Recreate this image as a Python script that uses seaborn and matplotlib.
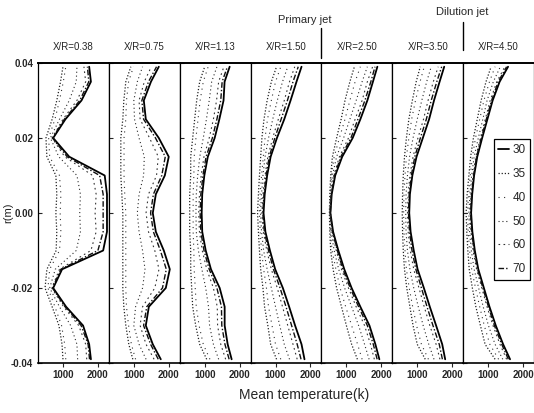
import numpy as np
import pandas as pd
import matplotlib
matplotlib.use("Agg")
import matplotlib.pyplot as plt
import seaborn as sns
from matplotlib.lines import Line2D

# ---------------- data ----------------
R = [0.039, 0.035, 0.030, 0.025, 0.020, 0.015, 0.010, 0.005, 0.0,
     -0.005, -0.010, -0.015, -0.020, -0.025, -0.030, -0.035, -0.039]
SERIES = ["30", "35", "40", "50", "60", "70"]
TITLES = ["X/R=0.38", "X/R=0.75", "X/R=1.13", "X/R=1.50", "X/R=2.50", "X/R=3.50", "X/R=4.50"]
XTICKS = [1000, 2000]
YTICKS = [0.04, 0.02, 0.0, -0.02, -0.04]
YTICKLABELS = ["0.04", "0.02", "0.00", "-0.02", "-0.04"]

# each list of rows: series 30, 35, 40, 50, 60, 70 (temperature in K along R)
T_038 = [
    [1750, 1800, 1530, 1070, 720, 1180, 2195, 2260, 2260, 2260, 2150, 975, 720, 1090, 1575, 1750, 1800],
    [1000, 930, 823, 690, 513, 540, 797, 823, 797, 823, 805, 540, 487, 690, 885, 973, 1000],
    [1080, 1010, 900, 770, 590, 620, 900, 940, 920, 940, 900, 620, 570, 770, 960, 1050, 1080],
    [1400, 1380, 1180, 900, 640, 880, 1400, 1500, 1480, 1500, 1380, 780, 620, 900, 1220, 1400, 1420],
    [1600, 1650, 1400, 1000, 690, 1050, 1850, 1950, 1920, 1950, 1800, 900, 680, 1020, 1450, 1650, 1680],
    [1700, 1740, 1480, 1040, 700, 1120, 2050, 2150, 2150, 2150, 2000, 940, 700, 1060, 1520, 1720, 1760],
]
T_075 = [
    [1715, 1490, 1286, 1343, 1715, 2000, 1887, 1630, 1543, 1630, 1858, 2030, 1915, 1430, 1343, 1543, 1772],
    [914, 771, 714, 685, 628, 628, 628, 657, 685, 685, 685, 685, 685, 714, 771, 857, 971],
    [990, 850, 790, 770, 720, 720, 720, 740, 770, 770, 770, 770, 770, 790, 850, 930, 1050],
    [1250, 1100, 1000, 1020, 1150, 1300, 1280, 1150, 1100, 1150, 1250, 1320, 1250, 1050, 1000, 1150, 1350],
    [1500, 1300, 1150, 1180, 1450, 1700, 1650, 1420, 1350, 1420, 1600, 1720, 1600, 1250, 1180, 1350, 1580],
    [1650, 1420, 1230, 1280, 1620, 1900, 1800, 1560, 1480, 1560, 1760, 1930, 1820, 1370, 1280, 1480, 1700],
]
T_113 = [
    [1715, 1570, 1540, 1420, 1286, 1090, 990, 930, 914, 930, 1030, 1180, 1430, 1572, 1572, 1658, 1772],
    [1000, 857, 771, 714, 657, 600, 600, 571, 571, 571, 600, 600, 628, 657, 743, 857, 1057],
    [1100, 960, 870, 810, 750, 700, 690, 670, 670, 670, 690, 700, 730, 760, 840, 960, 1150],
    [1350, 1200, 1130, 1050, 960, 860, 800, 760, 750, 760, 820, 920, 1030, 1110, 1140, 1250, 1400],
    [1550, 1400, 1340, 1250, 1130, 980, 900, 850, 830, 850, 930, 1060, 1250, 1360, 1370, 1460, 1600],
    [1650, 1500, 1460, 1350, 1220, 1040, 950, 890, 870, 890, 980, 1130, 1350, 1480, 1490, 1580, 1700],
]
T_150 = [
    [1744, 1600, 1430, 1250, 1040, 860, 760, 690, 657, 710, 840, 990, 1210, 1390, 1560, 1744, 1829],
    [1029, 880, 760, 670, 610, 575, 540, 510, 486, 510, 540, 575, 640, 686, 780, 860, 1029],
    [1150, 1000, 880, 770, 700, 650, 600, 560, 540, 560, 600, 660, 740, 800, 900, 1000, 1150],
    [1350, 1200, 1050, 920, 800, 700, 640, 600, 570, 600, 660, 760, 880, 1000, 1120, 1250, 1400],
    [1550, 1400, 1250, 1080, 920, 780, 700, 640, 610, 650, 750, 880, 1050, 1200, 1350, 1500, 1620],
    [1650, 1500, 1340, 1160, 980, 820, 730, 670, 635, 680, 800, 940, 1130, 1300, 1460, 1620, 1730],
]
T_250 = [
    [1887, 1760, 1600, 1400, 1180, 880, 680, 580, 543, 620, 770, 940, 1150, 1400, 1660, 1830, 1944],
    [1229, 1100, 960, 850, 720, 600, 550, 525, 514, 525, 550, 620, 720, 860, 1000, 1150, 1315],
    [1400, 1250, 1100, 960, 800, 650, 570, 540, 525, 540, 590, 700, 820, 980, 1150, 1320, 1450],
    [1600, 1450, 1280, 1100, 920, 720, 600, 550, 530, 560, 650, 780, 950, 1150, 1350, 1520, 1650],
    [1750, 1600, 1450, 1250, 1060, 800, 640, 565, 535, 590, 710, 860, 1060, 1280, 1520, 1690, 1800],
    [1820, 1700, 1530, 1330, 1130, 840, 660, 570, 540, 605, 740, 900, 1110, 1350, 1600, 1770, 1880],
]
T_350 = [
    [1772, 1640, 1480, 1340, 1160, 980, 860, 790, 771, 810, 900, 1010, 1190, 1360, 1540, 1715, 1800],
    [1086, 970, 860, 760, 690, 635, 600, 580, 571, 580, 600, 635, 700, 790, 880, 1000, 1229],
    [1200, 1080, 950, 840, 760, 690, 650, 620, 610, 620, 650, 690, 770, 870, 980, 1120, 1320],
    [1400, 1270, 1130, 1000, 880, 780, 720, 680, 670, 680, 720, 790, 900, 1030, 1170, 1330, 1480],
    [1600, 1460, 1310, 1180, 1020, 880, 790, 740, 720, 740, 800, 900, 1050, 1200, 1360, 1540, 1650],
    [1700, 1560, 1400, 1260, 1090, 930, 830, 770, 750, 780, 850, 960, 1120, 1280, 1450, 1630, 1720],
]
T_450 = [
    [1572, 1330, 1130, 980, 830, 690, 600, 545, 514, 550, 620, 720, 880, 1040, 1220, 1430, 1629],
    [1086, 940, 800, 690, 580, 500, 450, 400, 371, 390, 420, 460, 550, 650, 780, 914, 1200],
    [1200, 1040, 880, 760, 640, 550, 490, 440, 410, 430, 470, 530, 640, 760, 890, 1050, 1300],
    [1350, 1150, 970, 850, 720, 600, 530, 480, 450, 470, 520, 600, 730, 860, 1010, 1200, 1420],
    [1480, 1250, 1060, 920, 780, 650, 570, 510, 480, 510, 570, 670, 820, 970, 1140, 1340, 1530],
    [1530, 1290, 1100, 950, 805, 670, 585, 530, 500, 530, 600, 700, 850, 1010, 1180, 1390, 1580],
]
PANELS = [T_038, T_075, T_113, T_150, T_250, T_350, T_450]

# ---------------- styles ----------------
COLORS = {"30": "#000000", "35": "#222222", "40": "#333333", "50": "#2a2a2a", "60": "#333333", "70": "#111111"}
DASHES = {"30": "", "35": (1, 1.5), "40": (1, 4), "50": (1, 2.5), "60": (1.5, 3), "70": (4, 1.5, 1, 1.5)}
WIDTHS = {"30": 1.3, "35": 0.9, "40": 0.8, "50": 0.8, "60": 0.8, "70": 1.0}

sns.set_theme(style="ticks")
plt.rcParams["font.family"] = ["Liberation Sans", "DejaVu Sans"]
plt.rcParams["axes.unicode_minus"] = False

fig, axes = plt.subplots(1, 7, sharey=True, figsize=(5.34, 4.13), dpi=100)
fig.subplots_adjust(left=0.0712, right=1.0, top=0.8475, bottom=0.121, wspace=0)

for i, (ax, data, title) in enumerate(zip(axes, PANELS, TITLES)):
    rows = []
    for s, vals in zip(SERIES, data):
        for r, t in zip(R, vals):
            rows.append({"T": t, "r": r, "series": s})
    df = pd.DataFrame(rows)
    sns.lineplot(data=df, x="T", y="r", hue="series", style="series", size="series",
                 hue_order=SERIES, style_order=SERIES, size_order=SERIES,
                 palette=COLORS, dashes=DASHES, sizes=WIDTHS,
                 orient="y", estimator=None, legend=False, ax=ax)
    ax.set_xlim(286, 2314)
    ax.set_ylim(-0.04, 0.04)
    ax.set_xticks(XTICKS)
    ax.set_xticklabels([str(x) for x in XTICKS], fontsize=7, fontweight="bold")
    ax.set_yticks(YTICKS)
    ax.set_xlabel("")
    ax.set_ylabel("")
    ax.set_title(title, fontsize=7, pad=9)
    ax.tick_params(axis="x", direction="out", length=3, width=0.8, pad=2)
    ax.tick_params(axis="y", direction="in", length=3, width=0.8, labelleft=(i == 0))
    for sp in ax.spines.values():
        sp.set_visible(True)
        sp.set_color("black")
        sp.set_linewidth(0.9)
    ax.spines["top"].set_linewidth(1.4)
    ax.spines["bottom"].set_linewidth(1.2)

axes[0].set_yticklabels(YTICKLABELS, fontsize=7, fontweight="bold")

# legend
handles = []
for s in SERIES:
    if DASHES[s] == "":
        h = Line2D([0], [0], color=COLORS[s], lw=WIDTHS[s], linestyle="-")
    else:
        h = Line2D([0], [0], color=COLORS[s], lw=WIDTHS[s], dashes=DASHES[s])
    handles.append(h)
leg = axes[6].legend(handles, SERIES, loc="upper left", bbox_to_anchor=(0.43, 0.745),
                     fontsize=8.5, handlelength=0.9, handletextpad=0.3, labelspacing=1.0,
                     borderpad=0.4, borderaxespad=0, frameon=True, fancybox=False,
                     framealpha=1, edgecolor="black")
leg.get_frame().set_linewidth(0.9)

# annotations
fig.text(8 / 534, 1 - 213 / 413, "r(m)", rotation=90, ha="center", va="center", fontsize=8)
fig.text(304 / 534, 1 - 395 / 413, "Mean temperature(k)", ha="center", va="center", fontsize=10)
fig.text(305 / 534, 1 - 20 / 413, "Primary jet", ha="center", va="center", fontsize=8)
fig.text(462 / 534, 1 - 12 / 413, "Dilution jet", ha="center", va="center", fontsize=8)
axes[4].plot([0, 0], [1.015, 1.115], transform=axes[4].transAxes, clip_on=False, color="black", lw=1)
axes[6].plot([0, 0], [1.043, 1.137], transform=axes[6].transAxes, clip_on=False, color="black", lw=1)

fig.savefig("out.png", dpi=100)
